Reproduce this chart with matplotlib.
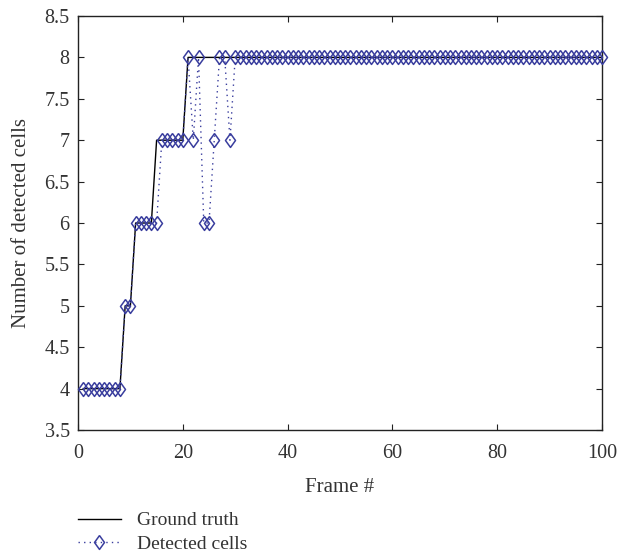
import matplotlib
matplotlib.use("Agg")
import matplotlib.pyplot as plt
import numpy as np

frames = list(range(1, 101))
ground_truth = [4]*8 + [5]*2 + [6]*4 + [7]*6 + [8]*80
detected = ([4]*8 + [5]*2 + [6]*5 + [7]*5 +
            [8, 7, 8, 6, 6, 7, 8, 8, 7] + [8]*71)

x_ticks = [0, 20, 40, 60, 80, 100]
y_ticks = [3.5, 4, 4.5, 5, 5.5, 6, 6.5, 7, 7.5, 8, 8.5]

plt.rcParams['font.family'] = ['Liberation Serif', 'DejaVu Serif']

fig = plt.figure(figsize=(6.19, 5.56), dpi=100)
ax = fig.add_axes([78/619, 1-430/556, (602-78)/619, (430-16)/556])

blue = '#3a3e9e'
diamond = [(0, 1), (0.72, 0), (0, -1), (-0.72, 0), (0, 1)]

ax.plot(frames, ground_truth, color='black', lw=1.0, label='Ground truth', zorder=2)
ax.plot(frames, detected, color=blue, ls=(0, (1, 3)), lw=1.0, marker=diamond,
        markersize=10, markerfacecolor='none', markeredgecolor=blue,
        markeredgewidth=1.1, label='Detected cells', zorder=3, clip_on=False)

ax.set_xlim(0, 100)
ax.set_ylim(3.5, 8.5)
ax.set_xticks(x_ticks)
ax.set_yticks(y_ticks)
ax.set_yticklabels([f'{v:g}' for v in y_ticks])
ax.tick_params(direction='in', top=True, right=True, length=4, width=0.8,
               labelsize=14.5, colors='#222222', labelcolor='#333333')
ax.tick_params(axis='x', pad=10)
ax.tick_params(axis='y', pad=6)
for s in ax.spines.values():
    s.set_linewidth(1.0)
    s.set_color('#222222')

ax.set_xlabel('Frame #', fontsize=15, color='#333333', labelpad=11)
ax.set_ylabel('Number of detected cells', fontsize=15, color='#333333', labelpad=10)

fig.legend(loc='upper left', bbox_to_anchor=(70/619, 1-504/556), frameon=False,
           fontsize=14, handlelength=2.2, handletextpad=0.85, labelspacing=0.3,
           borderaxespad=0, labelcolor='#333333')

fig.savefig('out.png', dpi=100)
